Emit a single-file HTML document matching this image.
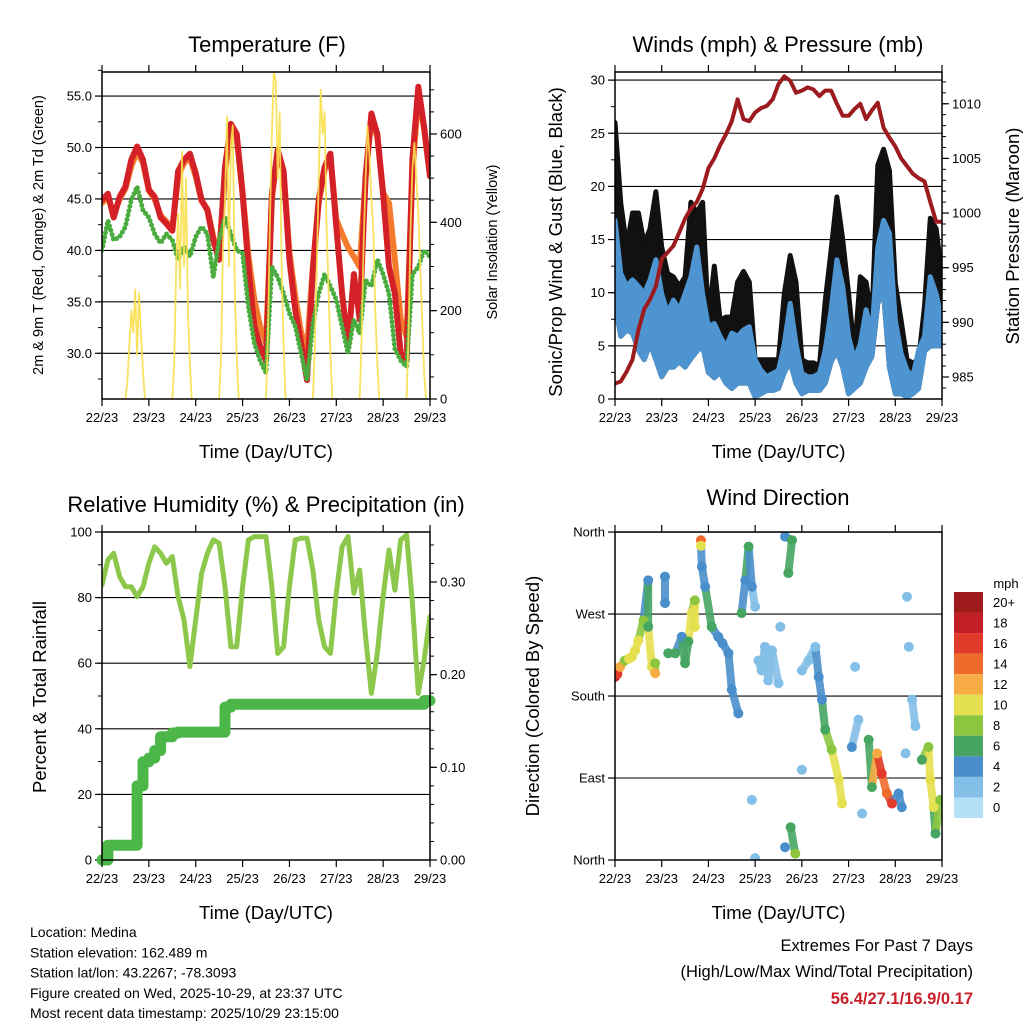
<!DOCTYPE html>
<html><head><meta charset="utf-8"><title>Station Meteogram</title>
<style>
html,body{margin:0;padding:0;background:#fff;}
#wrap{position:relative;width:1024px;height:1024px;overflow:hidden;font-family:"Liberation Sans",Arial,sans-serif;}
svg text{font-family:"Liberation Sans",Arial,sans-serif;}
</style></head>
<body>
<div id="wrap">
<svg id="svg" width="1024" height="1024" viewBox="0 0 1024 1024" xmlns="http://www.w3.org/2000/svg"></svg>
</div>
<script>
// ---------- DATA (3-hourly samples from 22/23 to 29/23) ----------
const dayLabels = ["22/23","23/23","24/23","25/23","26/23","27/23","28/23","29/23"];
const temp2m = [44.9,45.5,43.2,45.2,46.2,48.8,50.1,48.8,45.9,45.2,43.2,42.6,41.9,47.7,48.8,49.4,47.5,44.9,43.9,41.0,39.1,48.1,52.3,51.3,45.5,38.4,32.6,30.7,29.3,45.5,49.8,47.7,39.1,34.2,31.0,27.4,38.1,44.9,48.1,49.4,42.3,35.8,30.7,37.7,33.3,47.2,53.3,51.3,45.5,38.4,35.8,30.0,29.3,48.8,55.9,52.0,47.2];
const temp9m = [44.6,45.2,43.5,45.0,46.0,48.2,49.6,48.5,45.8,45.0,43.4,42.8,42.0,47.2,48.5,49.0,47.2,44.8,44.0,41.3,39.5,47.6,51.8,51.0,45.6,39.5,35.2,32.6,31.0,45.0,49.5,47.6,39.8,35.5,32.0,30.4,38.5,44.6,47.8,49.0,43.0,41.6,40.3,39.4,38.4,47.0,52.8,51.0,45.6,44.6,39.1,33.3,31.6,47.5,55.2,51.8,47.2];
const dewpt = [40.0,42.9,41.0,41.3,42.3,44.9,46.2,43.9,43.2,41.6,40.7,41.6,41.0,39.1,40.4,39.4,41.3,42.3,41.6,37.4,41.0,43.2,41.6,40.0,39.7,34.5,31.0,29.3,28.1,38.4,37.4,35.8,33.9,32.6,30.0,27.4,32.9,35.8,37.7,36.5,35.2,32.6,30.0,33.3,31.9,37.1,36.5,39.1,37.7,35.8,30.4,29.3,28.7,37.7,38.4,40.0,39.4];
// solar insolation, hours 11..21 UTC for each of 7 days
const solarHours = [11,12,13,14,15,16,17,18,19,20,21];
const solarDays = [
 [0,40,120,200,150,248,100,240,150,60,0],
 [0,80,300,420,250,560,300,500,200,80,0],
 [0,100,350,450,640,300,580,620,250,100,0],
 [0,150,400,600,740,720,500,650,300,120,0],
 [0,120,300,500,700,600,650,400,250,100,0],
 [0,150,350,500,618,550,450,380,200,80,0],
 [0,140,380,520,580,500,420,300,180,60,0]
];
const pressure = [984.4,984.6,985.5,986.6,989.3,991.2,992.1,993.3,995.8,996.4,997.0,998.2,999.5,1000.4,1001.0,1002.2,1004.1,1005.0,1006.2,1007.2,1008.4,1010.4,1008.6,1008.4,1009.2,1009.6,1009.8,1010.4,1011.8,1012.5,1012.1,1011.0,1011.2,1011.5,1011.3,1010.7,1011.2,1011.2,1010.0,1008.9,1008.9,1009.5,1010.0,1008.6,1009.4,1010.1,1007.8,1006.9,1006.1,1005.0,1004.3,1003.6,1003.2,1002.9,1001.0,999.2,999.2];
const windHi = [16.8,11.8,10.6,11.2,10.6,9.9,11.2,13.1,9.9,8.1,9.3,8.4,9.9,11.5,14.3,9.9,6.8,7.1,5.9,4.9,6.2,5.9,6.5,6.8,3.7,2.7,2.1,2.4,2.7,5.2,9.0,5.2,2.4,2.1,2.1,2.4,4.6,8.4,13.1,10.6,5.9,3.7,5.2,8.4,6.2,14.3,16.8,15.6,7.4,4.3,2.7,2.1,4.6,5.9,11.5,9.9,7.4];
const windLo = [9,5.9,6.5,6.2,4.6,3.7,5.2,3.7,2.1,3.0,3.0,3.5,3.0,3.8,4.5,5.0,2.5,2.0,2.5,1.5,1.0,1.5,1.5,1.5,0.2,0.5,0.8,0.8,1.0,2.5,3.5,1.5,0.5,0.8,0.8,0.8,1.5,3.5,4.5,3.0,0.5,1.0,1.5,3.0,4.0,9.0,10.0,3.0,0.5,0.5,0.2,0.5,1.0,4.5,5.0,5.0,5.0];
const gustHi = [26.0,18.4,14.3,17.5,17.5,14.6,16.0,19.5,14.3,11.8,11.5,10.6,11.5,18.5,17.5,18.5,7.4,12.5,7.4,7.7,7.7,11.0,12.0,11.0,3.7,3.7,3.7,3.7,3.7,9.9,13.5,11.0,3.7,3.4,3.4,3.1,9.2,14.0,19.0,15.0,9.9,4.3,11.5,11.0,7.4,22.0,23.5,21.5,10.9,7.4,3.7,3.4,3.7,8.7,17.0,16.0,11.5];
const relHum = [83.8,91.5,93.5,86.4,83.3,83.3,80.3,83.3,90.5,95.5,93.5,90.5,92.5,80.3,73.2,59,73.2,87.4,93.5,97.6,96.6,83.3,65.0,65.0,83.3,97.6,98.6,98.6,98.6,83.3,63,65,83.3,97.6,98.1,98.1,88.4,73.2,65,63,81.3,95.5,98.6,81.3,88.4,68,50.8,63,80.3,94.5,82.3,97.6,99.1,78.3,50.8,61,74.2];
const precip = [0,0.016,0.016,0.016,0.016,0.016,0.08,0.106,0.11,0.118,0.133,0.133,0.137,0.138,0.138,0.138,0.138,0.138,0.138,0.138,0.138,0.165,0.168,0.168,0.168,0.168,0.168,0.168,0.168,0.168,0.168,0.168,0.168,0.168,0.168,0.168,0.168,0.168,0.168,0.168,0.168,0.168,0.168,0.168,0.168,0.168,0.168,0.168,0.168,0.168,0.168,0.168,0.168,0.168,0.168,0.172,0.172];
// wind direction scatter (time in days, direction deg, speed mph)
const dirT = [0,0.05,0.11,0.21,0.3,0.36,0.43,0.5,0.61,0.71,0.71,0.79,0.86,0.86,1.07,1.07,1.14,1.29,1.43,1.5,1.57,1.64,1.71,1.71,1.84,1.84,1.86,1.93,2.07,2.21,2.3,2.43,2.5,2.64,2.71,2.79,2.86,2.93,3.0,3.07,3.14,3.21,3.28,3.36,3.5,3.54,2.93,3.0,3.64,3.79,3.71,3.64,3.86,3.76,4.0,4.14,4.29,4.36,4.43,4.5,4.64,4.79,4.86,4.0,5.07,5.21,5.14,5.29,5.43,5.5,5.61,5.71,5.82,5.93,6.07,6.14,6.25,6.29,6.36,6.43,6.22,6.57,6.71,6.75,6.82,6.86,6.96];
const dirDeg = [201,204,212,219,221,223,230,241,263,307,256,212,205,216,311,282,227,227,245,216,240,271,285,256,351,345,322,300,256,245,238,227,187,161,271,307,344,300,278,219,208,234,197,230,194,256,66,2,355,351,315,14,7,36,208,219,234,201,176,143,121,88,62,99,124,154,212,51,132,80,117,95,73,62,73,58,289,234,176,147,117,110,124,88,58,29,66];
const dirSpd = [17,15,12,7,9,10,9,10,8,4,6,10,12,7,4,3,6,6,4,6,5,9,8,10,14,10,4,4,6,4,4,4,4,4,6,4,6,3,2,1,1,2,2,2,2,2,2,1,4,6,6,3,7,6,2,2,1,3,4,6,7,10,10,1,3,2,1,2,6,6,12,16,14,16,4,3,1,1,2,2,1,6,7,10,9,6,7];
const spdLevels = ["0","2","4","6","8","10","12","14","16","18","20+"];
const spdColors = ["#b4e1f7","#84bfe7","#4a8fcb","#47a562","#8cc63f","#e5e04f","#f7ab45","#ef6b2c","#e03b2a","#c11e25","#9e1b1c"];

// ---------- helpers ----------
const NS="http://www.w3.org/2000/svg";
const svg=document.getElementById('svg');
function el(tag,attrs,parent){const e=document.createElementNS(NS,tag);for(const k in attrs)e.setAttribute(k,attrs[k]);(parent||svg).appendChild(e);return e;}
function txt(s,x,y,size,anchor,parent,extra){const t=el('text',Object.assign({x:x,y:y,'font-size':size,'text-anchor':anchor||'middle',fill:'#000'},extra||{}),parent);t.textContent=s;return t;}
function ts(n){const a=[];for(let i=0;i<n;i++)a.push(i*7/(n-1));return a;}
const T57=ts(57);
function linePath(xs,ys){return xs.map((x,i)=>(i?'L':'M')+x.toFixed(1)+','+ys[i].toFixed(1)).join('');}

function makePanel(name,x0,x1,y0,y1){
  const g=el('g',{});
  
  
  const id='clip-'+name;
  const cp=el('clipPath',{id:id},g);el('rect',{x:x0,y:y0,width:x1-x0,height:y1-y0},cp);
  const inner=el('g',{'clip-path':'url(#'+id+')'},g);
  return {g:g,inner:inner,x:t=>x0+t*(x1-x0)/7,x0:x0,x1:x1,y0:y0,y1:y1};
}
function frame(P){
  const r=el('rect',{x:P.x0,y:P.y0,width:P.x1-P.x0,height:P.y1-P.y0,fill:'none',stroke:'#000','stroke-width':1.5},P.g);
  
  
}
function xAxis(P){
  const ax=el('g',{},P.g);
  
  
  for(let d=0;d<=7;d++){
    const x=P.x(d);
    el('line',{x1:x,x2:x,y1:P.y1,y2:P.y1+7,stroke:'#000','stroke-width':1.2},ax);
    el('line',{x1:x,x2:x,y1:P.y0,y2:P.y0-7,stroke:'#000','stroke-width':1.2},ax);
    const lb=txt(dayLabels[d],x,P.y1+23,13,'middle',ax);
    
    
  }
  const tt=txt('Time (Day/UTC)',(P.x0+P.x1)/2,P.y1+59,18.5,'middle',ax);
  
  
}
function yAxis(P,side,yfn,majors,labels,minors,grid,name){
  const ax=el('g',{},P.g);
  
  
  const xe=side==='left'?P.x0:P.x1, dir=side==='left'?-1:1;
  minors.forEach(v=>{const y=yfn(v);el('line',{x1:xe,x2:xe+dir*4,y1:y,y2:y,stroke:'#000','stroke-width':1},ax);});
  majors.forEach((v,i)=>{
    const y=yfn(v);
    el('line',{x1:xe,x2:xe+dir*7,y1:y,y2:y,stroke:'#000','stroke-width':1.2},ax);
    if(grid) el('line',{x1:P.x0,x2:P.x1,y1:y,y2:y,stroke:'#000','stroke-width':1.1},P.inner);
    if(labels[i]!==''){
      const lb=txt(labels[i],xe+dir*10,y+4.5,13,side==='left'?'end':'start',ax);
      
      
    }
  });
}
function range(a,b,s){const r=[];for(let v=a;v<=b+1e-9;v+=s)r.push(+v.toFixed(4));return r;}
function vtitle(s,x,y,size,name){const t=txt(s,x,y,size,'middle',svg,{transform:'rotate(-90 '+x+' '+y+')'});return t;}
function title(s,x,y,name){const t=txt(s,x,y,22,'middle');}

// ---------- PANEL 1: temperature ----------
const P1=makePanel('temperature-panel',102,430,72,399);
const yT=v=>353.3-(v-30)*10.29, yS=v=>399-v*0.4417;
yAxis(P1,'left',yT,[30,35,40,45,50,55],['30.0','35.0','40.0','45.0','50.0','55.0'],range(27.5,57.5,2.5),true,'temperature-y-axis');
yAxis(P1,'right',yS,[0,200,400,600],['0','200','400','600'],range(0,700,50),false,'solar-y-axis');
const xs1=T57.map(P1.x);
let p=el('path',{d:linePath(xs1,temp9m.map(yT)),fill:'none',stroke:'#f47b2b','stroke-width':6,'stroke-linejoin':'round','stroke-linecap':'round'},P1.inner);


p=el('path',{d:linePath(xs1,temp2m.map(yT)),fill:'none',stroke:'#d42128','stroke-width':6,'stroke-linejoin':'round','stroke-linecap':'round'},P1.inner);


p=el('path',{d:linePath(xs1,dewpt.map(yT)),fill:'none',stroke:'#4aac3f','stroke-width':5,'stroke-dasharray':'0 4.5','stroke-linecap':'round'},P1.inner);


solarDays.forEach((vals,d)=>{
  const xs=solarHours.map(h=>P1.x(d+(h+1)/24));
  const s=el('path',{d:linePath(xs,vals.map(yS)),fill:'none',stroke:'#f8df4c','stroke-width':1.8,'stroke-opacity':0.9,'stroke-linejoin':'round'},P1.inner);
  
  
});
frame(P1);xAxis(P1);
title('Temperature (F)',267,52,'temperature-title');
vtitle('2m & 9m T (Red, Orange) & 2m Td (Green)',43,235,14.5,'temperature-y-title');
vtitle('Solar Insolation (Yellow)',497,242,14.5,'solar-y-title');

// ---------- PANEL 2: winds ----------
const P2=makePanel('winds-panel',615,942,72,399);
const yW=v=>399-v*10.63, yP=v=>377-(v-985)*10.93;
yAxis(P2,'left',yW,[0,5,10,15,20,25,30],['0','5','10','15','20','25','30'],range(0,30,2.5),true,'wind-y-axis');
yAxis(P2,'right',yP,[985,990,995,1000,1005,1010],['985','990','995','1000','1005','1010'],range(984,1012,1),false,'pressure-y-axis');
const xs2=T57.map(P2.x);
function band(lo,hi,col,name,sw){
  const d=linePath(xs2,hi.map(yW))+linePath(xs2.slice().reverse(),lo.slice().reverse().map(yW)).replace('M','L')+'Z';
  const b=el('path',{d:d,fill:col,stroke:col,'stroke-width':sw,'stroke-linejoin':'round'},P2.inner);
  
  
}
band(windLo,gustHi,'#111','gust-dots',5);
band(windLo,windHi,'#4d94d0','sonic-wind-band',5);
p=el('path',{d:linePath(xs2,pressure.map(yP)),fill:'none',stroke:'#9b1b1f','stroke-width':4,'stroke-linejoin':'round'},P2.inner);


frame(P2);xAxis(P2);
title('Winds (mph) & Pressure (mb)',778,52,'winds-title');
vtitle('Sonic/Prop Wind & Gust (Blue, Black)',562,242,18.5,'wind-y-title');
vtitle('Station Pressure (Maroon)',1019,236,18.5,'pressure-y-title');

// ---------- PANEL 3: RH & precip ----------
const P3=makePanel('humidity-panel',102,430,532,860);
const yR=v=>860-v*3.28, yPr=v=>860-v*926.7;
yAxis(P3,'left',yR,[0,20,40,60,80,100],['0','20','40','60','80','100'],range(0,100,10),true,'rh-y-axis');
yAxis(P3,'right',yPr,[0,0.1,0.2,0.3],['0.00','0.10','0.20','0.30'],range(0,0.34,0.02),false,'precip-y-axis');
const xs3=T57.map(P3.x);
p=el('path',{d:linePath(xs3,relHum.map(yR)),fill:'none',stroke:'#8dc84c','stroke-width':5,'stroke-linejoin':'round','stroke-linecap':'round'},P3.inner);


let sd='';precip.forEach((v,i)=>{const x=xs3[i],y=yPr(v);sd+=i?('L'+x.toFixed(1)+','+yPr(precip[i-1]).toFixed(1)+'L'+x.toFixed(1)+','+y.toFixed(1)):('M'+x+','+y);});
p=el('path',{d:sd,fill:'none',stroke:'#4cb748','stroke-width':11,'stroke-linejoin':'round','stroke-linecap':'round'},P3.g);


frame(P3);xAxis(P3);
title('Relative Humidity (%) & Precipitation (in)',266,512,'humidity-title');
vtitle('Percent & Total Rainfall',46,697,18.5,'rh-y-title');

// ---------- PANEL 4: wind direction ----------
const P4=makePanel('direction-panel',615,942,532,860);
const yD=v=>860-v*0.911;
yAxis(P4,'left',yD,[0,90,180,270,360],['North','East','South','West','North'],[],true,'direction-y-axis');
const spdColor=s=>spdColors[Math.min(10,Math.round(s/2))];
// trails between neighbouring observations (dense point clouds)
for(let i=1;i<dirT.length;i++){
  if(Math.abs(dirT[i]-dirT[i-1])<0.16 && Math.abs(dirDeg[i]-dirDeg[i-1])<55){
    const ln=el('line',{x1:P4.x(dirT[i-1]),y1:yD(dirDeg[i-1]),x2:P4.x(dirT[i]),y2:yD(dirDeg[i]),stroke:spdColor(dirSpd[i]),'stroke-width':8,'stroke-linecap':'round','stroke-opacity':0.9},P4.inner);
    
    
  }
}
dirT.forEach((t,i)=>{
  const c=el('circle',{cx:P4.x(t),cy:yD(dirDeg[i]),r:5,fill:spdColor(dirSpd[i])},P4.inner);
  
  
});
frame(P4);xAxis(P4);
title('Wind Direction',778,505,'direction-title');
vtitle('Direction (Colored By Speed)',539,696,18.5,'direction-y-title');

// colorbar
const cb=el('g',{});


const ut=txt('mph',1006,588,13,'middle',cb);


const bh=226/11;
spdColors.slice().reverse().forEach((c,i)=>{
  const r=el('rect',{x:954,y:592+i*bh,width:29,height:bh,fill:c},cb);
  
  
  const l=txt(spdLevels[10-i],993,592+i*bh+bh/2+4.5,13,'start',cb);
  
  
});

// footer text
const info=["Location: Medina","Station elevation: 162.489 m","Station lat/lon: 43.2267; -78.3093","Figure created on Wed, 2025-10-29, at 23:37 UTC","Most recent data timestamp: 2025/10/29 23:15:00"];
info.forEach((s,i)=>{const t=txt(s,30,937+i*20.3,14,'start');});
let e=txt('Extremes For Past 7 Days',973,951,16.5,'end');


e=txt('(High/Low/Max Wind/Total Precipitation)',973,977,16.5,'end');


e=txt('56.4/27.1/16.9/0.17',973,1004,16.5,'end',svg,{'font-weight':'bold',fill:'#c8202a'});


</script>
</body></html>
